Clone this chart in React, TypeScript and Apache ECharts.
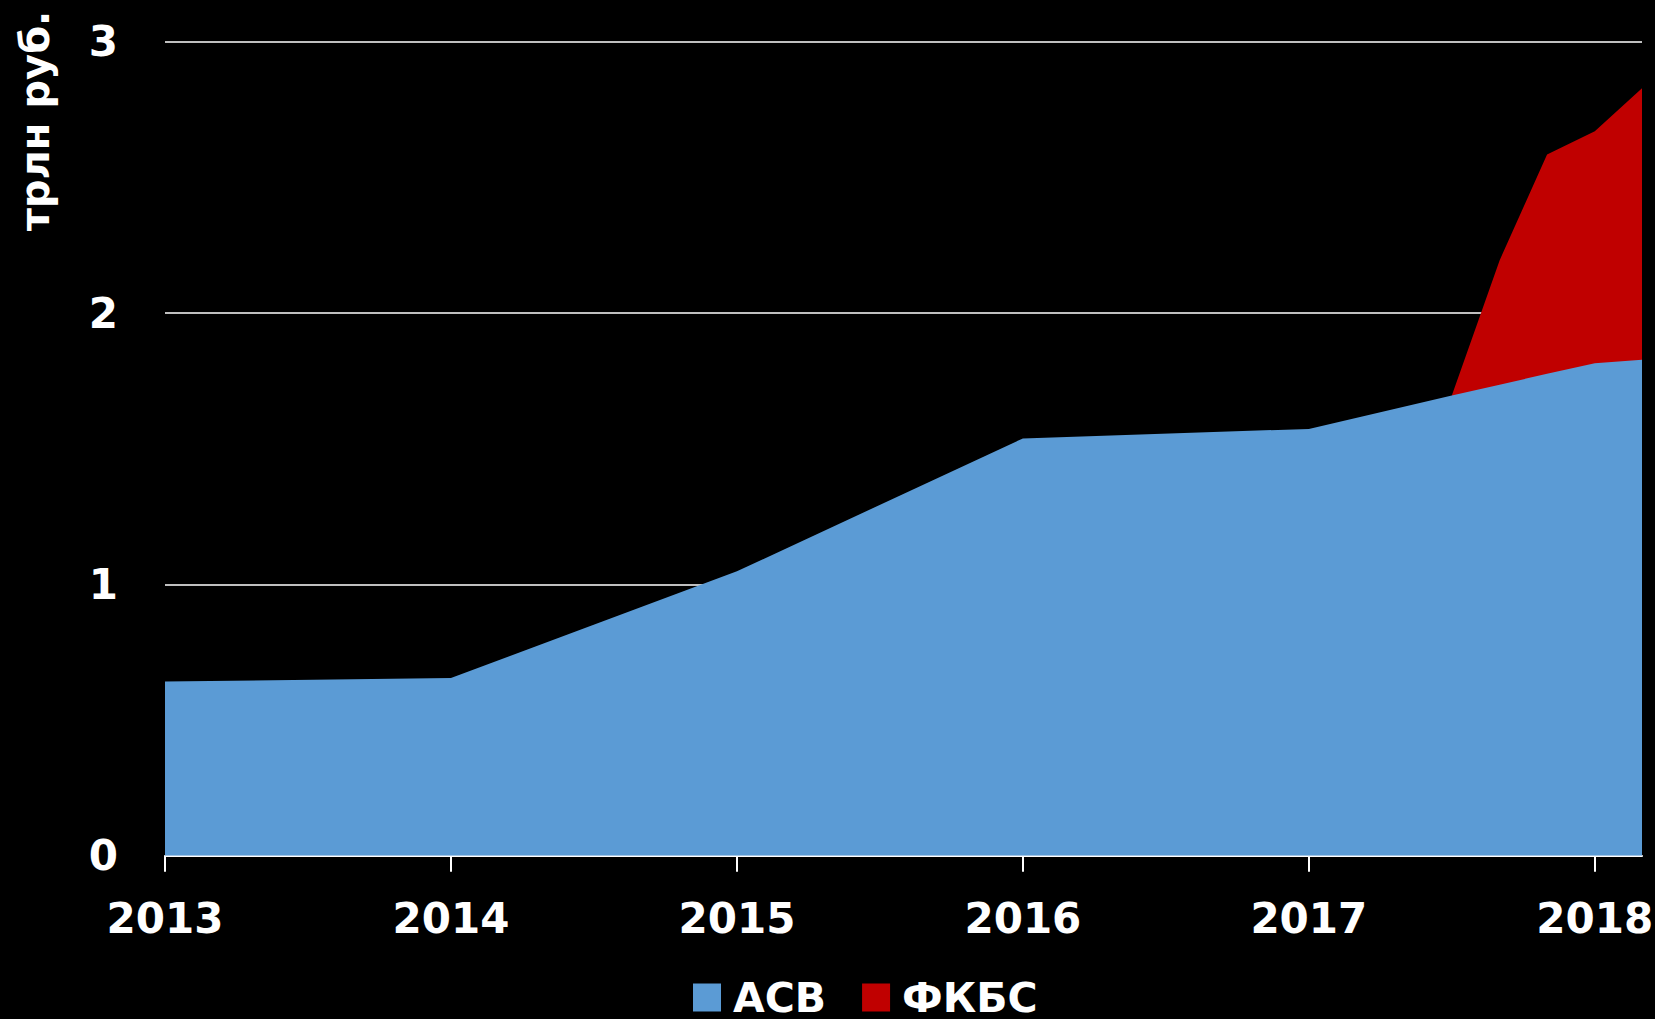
import React, { useEffect, useRef } from "react";
import * as echarts from "echarts";

const xPoints = [2013, 2014, 2015, 2016, 2017, 2017.5, 2017.667, 2017.833, 2018, 2018.165];
const asvValues = [0.642, 0.655, 1.048, 1.538, 1.573, 1.696, 1.736, 1.776, 1.815, 1.828];
const fkbsValues: (number | null)[] = [null, null, null, null, null, 0, 0.458, 0.808, 0.855, 1.0];
const yearTicks = [2013, 2014, 2015, 2016, 2017, 2018];
const seriesNames = ["АСВ", "ФКБС"];
const X_MIN = 2013;
const X_MAX = 2018.165;

export default function App() {
  const ref = useRef<HTMLDivElement>(null);
  useEffect(() => {
    if (!ref.current) return;
    const chart = echarts.init(ref.current, null, { renderer: "svg" });
    const font = "'DejaVu Sans', Verdana, sans-serif";
    const asvData = xPoints.map((x, i) => [x, asvValues[i]]);
    const fkbsTop = xPoints.map((x, i) =>
      fkbsValues[i] === null ? [x, null] : [x, asvValues[i] + (fkbsValues[i] as number)]
    );
    chart.setOption({
      animation: false,
      backgroundColor: "#000000",
      grid: {
        left: 165,
        right: 13,
        top: 41.7,
        bottom: 163.3,
        containLabel: false,
        outerBoundsMode: "none",
      },
      graphic: [
        {
          type: "text",
          x: 35,
          y: 121,
          rotation: Math.PI / 2,
          style: {
            text: "трлн руб.",
            fill: "#ffffff",
            font: `bold 40px ${font}`,
            align: "center",
            verticalAlign: "middle",
          },
        },
      ],
      legend: {
        data: seriesNames,
        left: 688,
        top: 972,
        itemWidth: 28,
        itemHeight: 28,
        itemGap: 36,
        icon: "rect",
        textStyle: {
          color: "#ffffff",
          fontSize: 41,
          lineHeight: 38,
          fontWeight: "bold",
          fontFamily: font,
          padding: [0, 0, 0, 7],
        },
      },
      xAxis: {
        type: "value",
        min: X_MIN,
        max: X_MAX,
        interval: 1,
        axisLine: { show: true, lineStyle: { color: "#ffffff", width: 2 } },
        axisTick: {
          show: true,
          length: 16,
          lineStyle: { color: "#ffffff", width: 2 },
          customValues: yearTicks,
        },
        splitLine: { show: false },
        axisLabel: {
          color: "#ffffff",
          fontSize: 42,
          fontWeight: "bold",
          fontFamily: font,
          margin: 42,
          customValues: yearTicks,
          formatter: (v: number) => String(Math.round(v)),
        },
      },
      yAxis: {
        type: "value",
        min: 0,
        max: 3,
        interval: 1,
        axisLine: { show: false },
        axisTick: { show: false },
        splitLine: { show: true, lineStyle: { color: "#ffffff", width: 1.5 } },
        axisLabel: {
          color: "#ffffff",
          fontSize: 42,
          fontWeight: "bold",
          fontFamily: font,
          margin: 47,
        },
      },
      series: [
        {
          name: seriesNames[1],
          type: "line",
          data: fkbsTop,
          showSymbol: false,
          symbol: "none",
          connectNulls: false,
          itemStyle: { color: "#C00000" },
          lineStyle: { width: 0, color: "#C00000" },
          areaStyle: { color: "#C00000", opacity: 1, origin: 1.5 },
          z: 2,
        },
        {
          name: seriesNames[0],
          type: "line",
          data: asvData,
          showSymbol: false,
          symbol: "none",
          itemStyle: { color: "#5B9BD5" },
          lineStyle: { width: 0, color: "#5B9BD5" },
          areaStyle: { color: "#5B9BD5", opacity: 1 },
          z: 3,
        },
      ],
    });
    return () => chart.dispose();
  }, []);
  return (
    <div
      ref={ref}
      style={{ position: "fixed", left: 0, top: 0, width: 1655, height: 1019 }}
    />
  );
}
